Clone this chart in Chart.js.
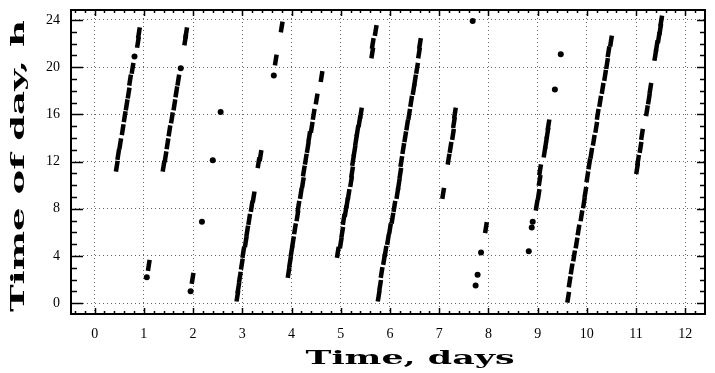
<!DOCTYPE html>
<html>
<head>
<meta charset="utf-8">
<title>Time of day vs time</title>
<script src="https://cdn.jsdelivr.net/npm/chart.js@4"></script>
<style>
  html, body { margin: 0; padding: 0; background: #fff; }
  canvas { display: block; }
</style>
</head>
<body>
<canvas id="onsets" width="715" height="373"></canvas>
<script>
// Axis ticks
const dayTicks = [0, 1, 2, 3, 4, 5, 6, 7, 8, 9, 10, 11, 12];
const hourTicks = [0, 4, 8, 12, 16, 20, 24];

// Runs of activity, [day, hour of day]; each entry is one dash of the trace
const bout1 = [[0.45, 11.6], [0.48, 12.6], [0.52, 13.5], [0.57, 14.7], [0.61, 15.8], [0.65, 16.8],
  [0.69, 17.8], [0.72, 18.9], [0.77, 19.9], [0.88, 22.1], [0.90, 22.9]];
const bout2 = [[1.40, 11.6], [1.44, 12.4], [1.48, 13.5], [1.52, 14.6], [1.57, 15.7], [1.62, 16.8],
  [1.66, 17.9], [1.70, 18.9], [1.84, 22.3], [1.86, 22.9]];
const bout3 = [[1.10, 3.2], [1.99, 2.1], [2.90, 0.6], [2.92, 1.3], [2.95, 2.2], [2.99, 3.3], [3.02, 4.3],
  [3.07, 5.2], [3.10, 6.1], [3.14, 7.1], [3.19, 8.2], [3.23, 9.0], [3.33, 11.9], [3.37, 12.5],
  [3.68, 20.6], [3.80, 23.4]];
const bout4 = [[3.94, 2.6], [3.97, 3.5], [4.00, 4.4], [4.03, 5.2], [4.07, 6.3], [4.12, 7.4], [4.14, 8.2],
  [4.19, 9.3], [4.23, 10.2], [4.25, 11.2], [4.29, 12.2], [4.33, 13.2], [4.36, 14.1], [4.41, 14.9],
  [4.45, 16.0], [4.51, 17.3], [4.61, 19.2]];
const bout5 = [[4.94, 4.3], [5.00, 5.1], [5.03, 6.0], [5.06, 7.1], [5.10, 7.8], [5.13, 8.5], [5.16, 9.2],
  [5.21, 10.3], [5.23, 11.1], [5.25, 12.1], [5.28, 12.9], [5.31, 13.8], [5.34, 14.6], [5.38, 15.4],
  [5.41, 16.1], [5.64, 21.2], [5.65, 22.0], [5.71, 23.1]];
const bout6 = [[5.77, 0.6], [5.80, 1.5], [5.83, 2.6], [5.88, 3.7], [5.91, 4.4], [5.96, 5.4], [6.00, 6.3],
  [6.05, 7.2], [6.09, 8.2], [6.15, 9.3], [6.18, 10.1], [6.21, 11.0], [6.23, 12.0], [6.27, 13.1],
  [6.31, 14.1], [6.35, 15.1], [6.39, 16.0], [6.43, 17.1], [6.48, 18.1], [6.51, 18.9], [6.55, 19.9],
  [6.59, 21.2], [6.61, 22.0]];
const bout7 = [[7.08, 9.3], [7.19, 12.2], [7.23, 13.2], [7.28, 14.3], [7.30, 15.3], [7.32, 16.1],
  [7.95, 6.4]];
const bout8 = [[8.98, 8.3], [9.02, 9.2], [9.04, 10.4], [9.05, 11.3], [9.14, 12.8], [9.17, 13.6],
  [9.20, 14.4], [9.22, 15.1]];
const bout9 = [[9.62, 0.5], [9.65, 1.8], [9.69, 2.9], [9.74, 4.0], [9.79, 5.1], [9.83, 6.2], [9.89, 7.4],
  [9.94, 8.5], [9.97, 9.4], [10.01, 10.7], [10.05, 11.8], [10.09, 12.7], [10.14, 13.8], [10.19, 14.9],
  [10.22, 16.0], [10.27, 17.1], [10.32, 18.2], [10.37, 19.3], [10.41, 20.3], [10.44, 21.3], [10.49, 22.2]];
const bout10 = [[11.02, 11.4], [11.04, 12.1], [11.09, 13.2], [11.12, 14.3], [11.22, 16.3], [11.26, 17.3],
  [11.29, 18.2], [11.39, 21.0], [11.42, 21.8], [11.46, 22.5], [11.49, 23.2], [11.51, 23.9]];

// Single short episodes
const spots = [[0.81, 20.9], [1.06, 2.2], [1.75, 19.9], [1.95, 1.0], [2.18, 6.9], [2.40, 12.1],
  [2.56, 16.2], [3.64, 19.3], [7.68, 23.9], [7.74, 1.5], [7.78, 2.4], [7.85, 4.3], [8.82, 4.4],
  [8.88, 6.4], [8.90, 6.9], [9.35, 18.1], [9.47, 21.1]];

const runs = [].concat(bout1, bout2, bout3, bout4, bout5, bout6, bout7, bout8, bout9, bout10);

// Box round the plot, with inward ticks on all four sides
const frame = {
  id: 'frame',
  afterDatasetsDraw(chart) {
    const { ctx, chartArea: a, scales: { x, y } } = chart;
    const seg = (x1, y1, x2, y2) => { ctx.beginPath(); ctx.moveTo(x1, y1); ctx.lineTo(x2, y2); ctx.stroke(); };
    ctx.save();
    ctx.strokeStyle = '#000';
    ctx.lineWidth = 1.5;
    for (let h = 0; h <= 24; h++) {
      const py = Math.round(y.getPixelForValue(h)) + 0.5;
      const major = h % 4 === 0;
      seg(a.left, py, a.left + (major ? 12 : 6), py);
      seg(a.right, py, a.right - (major ? 8 : 5), py);
    }
    for (let i = -2; i <= 62; i++) {
      const px = Math.round(x.getPixelForValue(i / 5)) + 0.5;
      if (px < a.left || px > a.right) continue;
      const len = i % 5 === 0 ? 6 : 3;
      seg(px, a.bottom, px, a.bottom - len);
      seg(px, a.top, px, a.top + len);
    }
    ctx.lineWidth = 2;
    ctx.strokeRect(a.left, a.top, a.right - a.left, a.bottom - a.top);
    ctx.restore();
  }
};

// Wide bold axis titles
const titles = {
  id: 'titles',
  afterDraw(chart) {
    const ctx = chart.ctx;
    ctx.save();
    ctx.fillStyle = '#000';
    ctx.font = 'bold 19px "DejaVu Serif"';
    ctx.textAlign = 'center';
    ctx.textBaseline = 'alphabetic';

    let text = 'Time, days';
    let w = ctx.measureText(text).width;
    ctx.save();
    ctx.translate(410, 364);
    ctx.scale(209 / w, 1);
    ctx.fillText(text, 0, 0);
    ctx.restore();

    text = 'Time of day, h';
    w = ctx.measureText(text).width;
    ctx.save();
    ctx.translate(24, 166);
    ctx.rotate(-Math.PI / 2);
    ctx.scale(292 / w, 1);
    ctx.fillText(text, 0, 0);
    ctx.restore();

    ctx.restore();
  }
};

const gridStyle = {
  color: 'rgba(0,0,0,0.6)',
  lineWidth: 1,
  drawTicks: false,
  tickLength: 0
};

new Chart(document.getElementById('onsets'), {
  type: 'scatter',
  data: {
    datasets: [
      {
        label: 'runs',
        data: runs,
        pointStyle: 'line',
        rotation: -81,
        radius: 5.5,
        borderWidth: 4.5,
        borderColor: '#000',
        backgroundColor: '#000'
      },
      {
        label: 'spots',
        data: spots,
        pointStyle: 'circle',
        radius: 3,
        borderWidth: 0,
        backgroundColor: '#000'
      }
    ]
  },
  options: {
    responsive: false,
    animation: false,
    events: [],
    layout: { padding: { top: 6, right: 1, left: 0, bottom: 0 } },
    plugins: { legend: { display: false }, tooltip: { enabled: false } },
    scales: {
      x: {
        type: 'linear',
        min: -0.48,
        max: 12.40,
        afterBuildTicks: s => { s.ticks = dayTicks.map(v => ({ value: v })); },
        afterFit: s => { s.height = 59; s.paddingLeft = 0; s.paddingRight = 0; },
        grid: gridStyle,
        border: { display: false, dash: [1, 3] },
        ticks: { color: '#000', padding: 12, maxRotation: 0, font: { family: '"Liberation Serif"', size: 14 } }
      },
      y: {
        type: 'linear',
        min: -0.92,
        max: 24.84,
        afterBuildTicks: s => { s.ticks = hourTicks.map(v => ({ value: v })); },
        afterFit: s => { s.width = 71; s.paddingTop = 0; s.paddingBottom = 0; },
        grid: gridStyle,
        border: { display: false, dash: [1, 3] },
        ticks: { color: '#000', padding: 11, font: { family: '"Liberation Serif"', size: 14 } }
      }
    }
  },
  plugins: [frame, titles]
});
</script>
</body>
</html>
